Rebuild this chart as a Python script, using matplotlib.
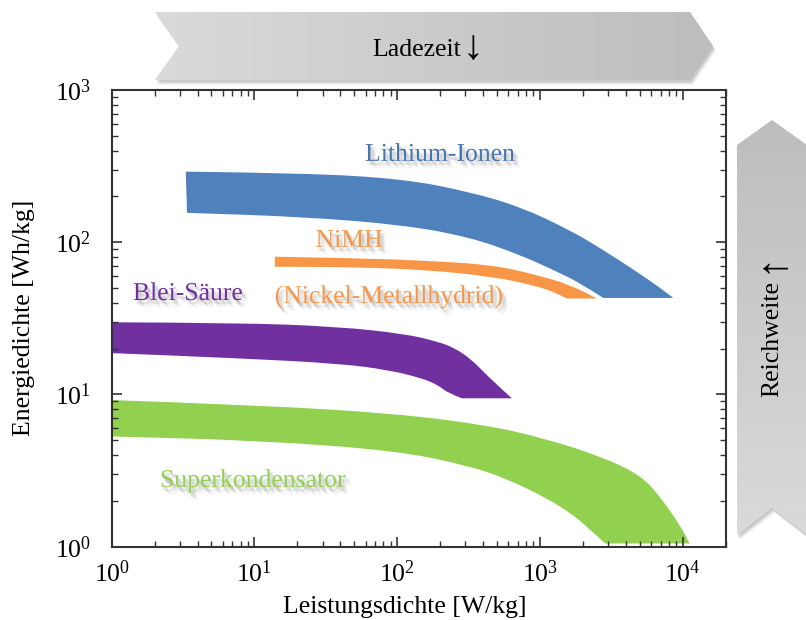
import numpy as np
import matplotlib
matplotlib.use("Agg")
import matplotlib.pyplot as plt
import matplotlib.patheffects as pe
from matplotlib.patches import Polygon, PathPatch
from matplotlib.path import Path
from matplotlib.colors import LinearSegmentedColormap
from matplotlib.ticker import LogLocator, NullFormatter

plt.rcParams['font.family'] = ['Liberation Serif', 'DejaVu Serif']
plt.rcParams['mathtext.fontset'] = 'stix'

# Ragone-Bereiche: obere und untere Kante je Speichertyp (W/kg, Wh/kg)
li_top_x = [3.30, 21.9, 110, 324, 727, 1629, 2773, 4800, 6953, 8577]
li_top_y = [291, 285, 261, 214, 171, 120, 89, 63.8, 50.1, 43.1]
li_bot_x = [3.37, 21.9, 110, 324, 727, 1238, 1914, 2773]
li_bot_y = [156, 147, 130, 108, 82.5, 65.8, 54.0, 43.1]

nimh_top_x = [13.9, 55.0, 162, 470, 951, 1629, 2504]
nimh_top_y = [80.4, 78.5, 75.7, 70.9, 61.0, 52.4, 42.7]
nimh_bot_x = [13.9, 55.0, 162, 470, 951, 1313, 1543]
nimh_bot_y = [69.1, 68.5, 65.8, 59.4, 51.6, 46.2, 42.7]

pb_top_x = [1.0, 7.67, 38.5, 114, 194, 255, 333, 434, 635]
pb_top_y = [29.8, 29.6, 27.9, 25.0, 22.2, 20.1, 16.9, 13.1, 9.44]
pb_bot_x = [1.0, 7.67, 38.5, 86.4, 149, 194, 227, 284]
pb_bot_y = [18.7, 17.3, 16.0, 14.5, 12.8, 11.5, 10.2, 9.44]

sc_top_x = [1.0, 10.6, 98.6, 434, 1098, 2773, 5152, 7024, 9555, 11160]
sc_top_y = [9.19, 8.51, 7.49, 6.27, 5.12, 3.87, 2.92, 2.10, 1.39, 1.05]
sc_bot_x = [1.0, 10.6, 98.6, 319, 592, 1098, 1692, 2170, 2864]
sc_bot_y = [5.30, 4.99, 4.28, 3.40, 2.78, 2.10, 1.63, 1.33, 1.05]

blue = '#4F81BD'
orange = '#F79646'
purple = '#7030A0'
green = '#92D050'
FS = 18.5

fig = plt.figure(figsize=(8.06, 6.2), dpi=100)

# Hintergrund-Ebene in Pixelkoordinaten fuer die grauen Pfeile
bg = fig.add_axes([0, 0, 1, 1], zorder=0)
bg.set_xlim(0, 806)
bg.set_ylim(620, 0)
bg.axis('off')


def banner(verts, grad, horizontal=True):
    verts = np.array(verts, dtype=float)
    # weicher Schatten
    for k, a in [(5, 0.05), (4, 0.07), (3, 0.09), (2, 0.1)]:
        bg.add_patch(Polygon(verts + [k * 0.6, k], closed=True, fc='#404040',
                             ec='none', alpha=a, zorder=1))
    poly = Polygon(verts, closed=True, fc='none', ec='none', zorder=2)
    bg.add_patch(poly)
    x0, x1 = verts[:, 0].min(), verts[:, 0].max()
    y0, y1 = verts[:, 1].min(), verts[:, 1].max()
    g = np.linspace(0, 1, 256)
    img = np.outer(np.ones(2), g) if horizontal else np.outer(g, np.ones(2))
    im = bg.imshow(img, cmap=grad, extent=(x0, x1, y1, y0), aspect='auto',
                   zorder=2, vmin=0, vmax=1, interpolation='bilinear')
    im.set_clip_path(poly)


grad_h = LinearSegmentedColormap.from_list('gh', ['#DADADA', '#BDBDBD'])
grad_v = LinearSegmentedColormap.from_list('gv', ['#BDBDBD', '#DADADA'])

banner([(155, 12), (690, 12), (713, 46), (690, 80), (155, 80), (179, 46)], grad_h)
banner([(772, 120), (807, 145), (807, 535), (772, 508), (737, 535), (737, 145)],
       grad_v, horizontal=False)
bg.text(372, 56.5, 'Ladezeit', fontsize=FS, ha='left', va='baseline', zorder=3)
bg.text(473, 49, '↓', fontsize=30, ha='center', va='center', zorder=3)
bg.text(772, 397, 'Reichweite', fontsize=FS, ha='center', va='bottom',
        rotation=90, zorder=3)
bg.text(772, 263, '↑', fontsize=30, ha='center', va='center',
        rotation=90, zorder=3)

ax = fig.add_axes([0.1386, 0.1182, 0.7618, 0.7366], zorder=1)
ax.set_xscale('log')
ax.set_yscale('log')


def edge(xs, ys):
    # glatte Kante: quadratische Bezier-Stuecke ueber die Stuetzpunkte
    p = np.column_stack([xs, ys]).astype(float)
    verts, codes = [p[0]], [Path.LINETO]
    for i in range(1, len(p) - 1):
        mid = np.sqrt(p[i] * p[i + 1])
        verts += [p[i], mid]
        codes += [Path.CURVE3, Path.CURVE3]
    verts.append(p[-1])
    codes.append(Path.LINETO)
    return verts, codes


bands = [
    (li_top_x, li_top_y, li_bot_x, li_bot_y, blue),
    (nimh_top_x, nimh_top_y, nimh_bot_x, nimh_bot_y, orange),
    (pb_top_x, pb_top_y, pb_bot_x, pb_bot_y, purple),
    (sc_top_x, sc_top_y, sc_bot_x, sc_bot_y, green),
]
for tx, ty, bx, by, c in bands:
    v1, c1 = edge(tx, ty)
    v2, c2 = edge(bx[::-1], by[::-1])
    c1[0] = Path.MOVETO
    verts = v1 + v2 + [v1[0]]
    codes = c1 + c2 + [Path.CLOSEPOLY]
    ax.add_patch(PathPatch(Path(verts, codes), fc=c, ec='none', lw=0))

ax.set_xlim(1, 2e4)
ax.set_ylim(1, 1000)

shadow = [pe.SimplePatchShadow(offset=o, shadow_rgbFace='#606060', alpha=0.07)
          for o in [(1, -2), (2, -3), (3, -4), (2, -2), (3, -3), (4, -5), (1, -3)]]
labels = [
    ('Lithium-Ionen', 200, 375, '#4575B0'),
    ('NiMH', 46, 102, orange),
    ('(Nickel-Metallhydrid)', 87.8, 43.7, orange),
    ('Blei-Säure', 3.43, 45.7, purple),
    ('Superkondensator', 9.78, 2.70, green),
]
for txt, x, y, c in labels:
    t = ax.text(x, y, txt, color=c, fontsize=FS, ha='center', va='center')
    t.set_path_effects(shadow + [pe.Normal()])

ax.xaxis.set_major_locator(LogLocator(base=10, numticks=10))
ax.yaxis.set_major_locator(LogLocator(base=10, numticks=10))
ax.xaxis.set_minor_locator(LogLocator(base=10, subs=np.arange(2, 10), numticks=20))
ax.yaxis.set_minor_locator(LogLocator(base=10, subs=np.arange(2, 10), numticks=20))
ax.xaxis.set_minor_formatter(NullFormatter())
ax.yaxis.set_minor_formatter(NullFormatter())
ax.tick_params(which='both', direction='in', top=True, right=True, color='#333333')
ax.tick_params(which='major', length=7, width=1.2, labelsize=FS)
ax.tick_params(which='minor', length=4, width=1.0)
ax.tick_params(axis='x', which='major', pad=10)
ax.tick_params(axis='y', which='major', pad=15)
for s in ax.spines.values():
    s.set_linewidth(1.5)
    s.set_color('#333333')

ax.set_xlabel('Leistungsdichte [W/kg]', fontsize=FS, labelpad=7)
ax.set_ylabel('Energiedichte [Wh/kg]', fontsize=FS, labelpad=14)
ax.xaxis.set_label_coords(0.478, -0.108)

fig.savefig('out.png', dpi=100)
